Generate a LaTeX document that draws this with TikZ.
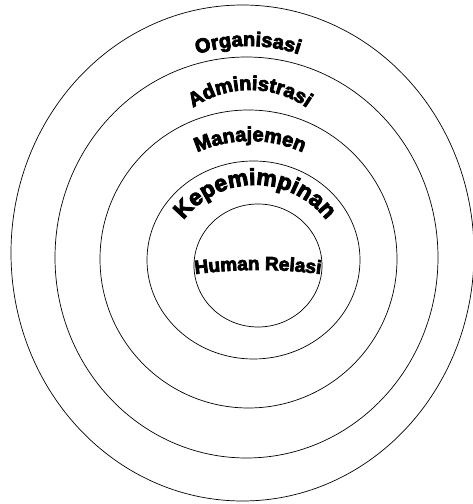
\documentclass[tikz,border=0pt]{standalone}
\usepackage{fontspec}
\newfontfamily\wordart[UprightFont=* Bold, FakeBold=4]{Liberation Sans}
\usetikzlibrary{decorations.text}

\begin{document}
\begin{tikzpicture}[
  x=1pt, y=1pt,
  ring/.style={draw=black, line width=0.7pt},
  arctext/.style={decorate, decoration={text along path, text align=center, text={#1}}}
]
  \useasboundingbox (0,0) rectangle (472,504);
  % rings, outside to inside
  \draw[ring] (242.5,251) ellipse [x radius=231.5pt, y radius=248pt];
  \draw[ring] (246.5,246.5) ellipse [x radius=191.5pt, y radius=200.5pt];
  \draw[ring] (248.5,245) ellipse [x radius=148.5pt, y radius=149pt];
  \draw[ring] (253.5,244) ellipse [x radius=106.5pt, y radius=99pt];
  \draw[ring] (258,238.5) ellipse [x radius=64pt, y radius=61.5pt];
  % centres of the text arcs
  \coordinate (orgc) at (248,298);
  \coordinate (admc) at (250,314);
  \coordinate (manc) at (250,235);
  \coordinate (kepc) at (255,229);
  \coordinate (humc) at (258,-246);
  % curved labels
  \path[arctext={|\wordart\fontsize{20}{24}\selectfont|Organisasi}]
    ([shift={(120:160pt)}]orgc) arc[start angle=120, end angle=60, radius=160pt];
  \path[arctext={|\wordart\fontsize{20}{24}\selectfont|Administrasi}]
    ([shift={(140:100pt)}]admc) arc[start angle=140, end angle=40, radius=100pt];
  \path[arctext={|\wordart\fontsize{20}{24}\selectfont|Manajemen}]
    ([shift={(130:128pt)}]manc) arc[start angle=130, end angle=50, radius=128pt];
  \path[arctext={|\wordart\fontsize{23}{27}\selectfont|Kepemimpinan}]
    ([shift={(160:90pt)}]kepc) arc[start angle=160, end angle=20, radius=90pt];
  \path[arctext={|\wordart\fontsize{19}{23}\selectfont|Human Relasi}]
    ([shift={(100:480pt)}]humc) arc[start angle=100, end angle=80, radius=480pt];
\end{tikzpicture}
\end{document}
